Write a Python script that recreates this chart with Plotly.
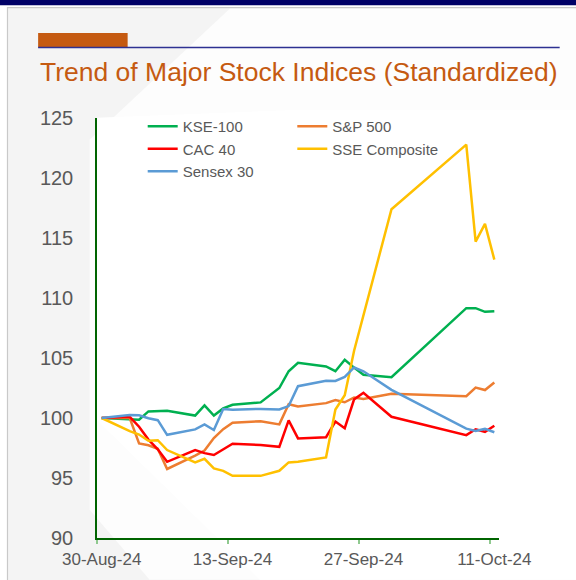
import plotly.graph_objects as go

# trading days shown on the chart (Oct 1-7 absent)
dates = ["2024-08-30", "2024-09-02", "2024-09-03", "2024-09-04", "2024-09-05",
         "2024-09-06", "2024-09-09", "2024-09-10", "2024-09-11", "2024-09-12",
         "2024-09-13", "2024-09-16", "2024-09-18", "2024-09-19", "2024-09-20",
         "2024-09-23", "2024-09-24", "2024-09-25", "2024-09-26", "2024-09-27",
         "2024-09-30", "2024-10-08", "2024-10-09", "2024-10-10", "2024-10-11"]

kse_100 = [100.0, 99.93, 99.86, 100.55, 100.58, 100.6, 100.2, 101.05, 100.2, 100.8,
           101.1, 101.3, 102.5, 103.9, 104.6, 104.3, 103.9, 104.85, 104.2, 103.6,
           103.4, 109.15, 109.15, 108.85, 108.9]
sp_500 = [100.0, 100.0, 97.88, 97.73, 97.43, 95.75, 96.86, 97.29, 98.33, 99.07,
          99.6, 99.73, 99.47, 101.15, 100.96, 101.24, 101.5, 101.31, 101.71, 101.59,
          102.02, 101.82, 102.54, 102.33, 102.95]
cac_40 = [100.0, 100.1, 99.27, 98.2, 97.39, 96.35, 97.32, 97.07, 96.92, 97.4,
          97.86, 97.75, 97.6, 99.8, 98.3, 98.4, 99.7, 99.15, 101.55, 102.1,
          100.1, 98.57, 99.06, 98.85, 99.35]
sse_composite = [100.0, 98.9, 98.62, 98.1, 98.15, 97.33, 96.3, 96.6, 95.8, 95.6,
                 95.18, 95.18, 95.6, 96.3, 96.35, 96.72, 100.7, 101.9, 105.6, 108.6,
                 117.4, 122.78, 114.7, 116.18, 113.2]
sensex_30 = [100.0, 100.24, 100.23, 99.98, 99.82, 98.6, 99.05, 99.46, 99.0, 100.75,
             100.68, 100.76, 100.71, 100.99, 102.65, 103.11, 103.09, 103.42, 104.21, 103.89,
             102.35, 99.11, 98.91, 99.09, 98.81]

series = [("KSE-100", kse_100, "#00B050", "legend"),
          ("S&P 500", sp_500, "#ED7D31", "legend2"),
          ("CAC 40", cac_40, "#FF0000", "legend"),
          ("SSE Composite", sse_composite, "#FFC000", "legend2"),
          ("Sensex 30", sensex_30, "#5B9BD5", "legend")]

tick_dates = ["2024-08-30", "2024-09-13", "2024-09-27", "2024-10-11"]
tick_text = ["30-Aug-24", "13-Sep-24", "27-Sep-24", "11-Oct-24"]

W, H = 576, 580
L, R, T, B = 97.4, 498.9, 118.3, 538.3
PW, PH = R - L, B - T

def px(x):
    return (x - L) / PW

def py(y):
    return (B - y) / PH

def poly(points):
    return "M" + " L".join("{},{}".format(px(a), py(b)) for a, b in points) + " Z"

fig = go.Figure()
for name, vals, color, leg in series:
    fig.add_trace(go.Scatter(x=dates, y=vals, name=name, mode="lines",
                             line=dict(color=color, width=2.5), legend=leg))

# slide decoration
shapes = [
    dict(type="rect", xref="paper", yref="paper", x0=px(8), x1=px(W + 5), y0=py(H + 5), y1=py(8),
         fillcolor="#f4f4f4", line=dict(color="#c9c9c9", width=1.2), layer="below"),
    dict(type="path", xref="paper", yref="paper", layer="below", line=dict(width=0),
         fillcolor="#fdfdfd",
         path=poly([(230, 9), (W, 9), (W, H), (150, H), (90, 510), (90, 140)])),
    dict(type="path", xref="paper", yref="paper", layer="below", line=dict(width=0),
         fillcolor="#ffffff",
         path=poly([(300, 110), (W, 110), (W, H), (260, H), (97, 420), (97, 118)])),
    dict(type="rect", xref="paper", yref="paper", x0=px(0), x1=px(W), y0=py(5.5), y1=py(0),
         fillcolor="#000066", line=dict(width=0)),
    dict(type="rect", xref="paper", yref="paper", x0=px(38.6), x1=px(128), y0=py(47.7), y1=py(33.3),
         fillcolor="#C55A11", line=dict(width=0)),
    dict(type="line", xref="paper", yref="paper", x0=px(38.6), x1=px(559.5), y0=py(47.8), y1=py(47.8),
         line=dict(color="#2E3192", width=1.6)),
]

fig.update_layout(
    width=W, height=H,
    margin=dict(l=L, r=W - R, t=T, b=H - B, autoexpand=False),
    paper_bgcolor="white", plot_bgcolor="rgba(0,0,0,0)",
    font=dict(family="Liberation Sans, Arial, sans-serif", color="#595959"),
    shapes=shapes,
    annotations=[dict(text="Trend of Major Stock Indices (Standardized)", xref="paper", yref="paper",
                      x=px(38.6), y=py(72.5), xanchor="left", yanchor="middle", showarrow=False,
                      font=dict(size=26.5, color="#C55A11"))],
    legend=dict(xref="container", yref="container", x=142.7 / W, y=1 - 110 / H,
                xanchor="left", yanchor="top", bgcolor="rgba(0,0,0,0)",
                font=dict(size=15, color="#595959")),
    legend2=dict(xref="container", yref="container", x=292.3 / W, y=1 - 110 / H,
                 xanchor="left", yanchor="top", bgcolor="rgba(0,0,0,0)",
                 font=dict(size=15, color="#595959")),
)

fig.update_xaxes(range=["2024-08-29 12:00", "2024-10-11 12:00"], tickmode="array",
                 tickvals=tick_dates, ticktext=tick_text, ticks="", showgrid=False,
                 showline=True, linecolor="#006400", linewidth=1.5,
                 tickfont=dict(size=17, color="#595959"), ticklabelstandoff=5,
                 minor=dict(tickmode="array",
                            tickvals=["2024-08-29 12:00", "2024-09-12 12:00",
                                      "2024-09-26 12:00", "2024-10-10 12:00"],
                            ticks="outside", ticklen=4, tickcolor="#8fc98f", tickwidth=1.5,
                            showgrid=False),
                 zeroline=False)
fig.update_yaxes(range=[90, 125], dtick=5, showgrid=False, zeroline=False,
                 showline=True, linecolor="#006400", linewidth=1.5, ticks="",
                 tickfont=dict(size=20, color="#595959"), ticklabelstandoff=18)

fig.write_html("out.html", config={"displayModeBar": False},
               post_script="document.body.style.margin='0';")
